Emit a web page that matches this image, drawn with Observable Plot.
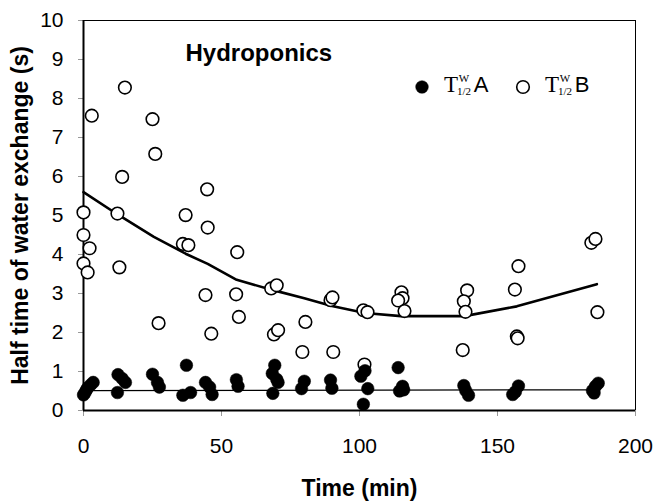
<!DOCTYPE html>
<html>
<head>
<meta charset="utf-8">
<script src="https://cdn.jsdelivr.net/npm/d3@7"></script>
<script src="https://cdn.jsdelivr.net/npm/@observablehq/plot@0.6"></script>
<style>
  html, body { margin: 0; padding: 0; background: white; }
</style>
</head>
<body>
<div id="chart"></div>
<script>
// ---- data ----
const titleText = "Hydroponics";
const xLabel = "Time (min)";
const yLabel = "Half time of water exchange (s)";
const xTicks = [0, 50, 100, 150, 200];
const yTicks = [0, 1, 2, 3, 4, 5, 6, 7, 8, 9, 10];

// T1/2 W A (filled circles)
const timeA = [0, 0.5, 1, 1.5, 2.5, 3.5, 12.5, 14, 15.2, 12.3, 25, 26.8, 27.5, 37.3, 36, 38.8,
  44.2, 45.7, 46.6, 55.4, 56, 69.3, 68.4, 70, 70.5, 68.6, 80, 79, 89.5, 90,
  100.5, 102, 103, 101.4, 114, 115.6, 116, 114.5, 137.8, 138.5, 139.5,
  157.6, 156.5, 155.5, 186.5, 185.5, 184.4, 185];
const valA = [0.40, 0.45, 0.52, 0.58, 0.65, 0.72, 0.92, 0.82, 0.72, 0.46, 0.93, 0.72, 0.60, 1.16, 0.39, 0.46,
  0.72, 0.60, 0.41, 0.79, 0.62, 1.16, 0.95, 0.80, 0.72, 0.44, 0.75, 0.56, 0.78, 0.57,
  0.88, 1.02, 0.56, 0.16, 1.10, 0.62, 0.53, 0.50, 0.64, 0.51, 0.39,
  0.63, 0.48, 0.41, 0.70, 0.62, 0.51, 0.45];

// T1/2 W B (open circles)
const timeB = [0, 0, 0, 2.2, 1.5, 3, 15, 14, 12.3, 13, 25, 26, 27.2, 37, 36, 38,
  44.8, 45, 44.2, 46.3, 55.7, 55.3, 56.3, 68, 70, 69, 70.5, 80.4, 79.3,
  89.5, 90.2, 90.5, 101.4, 102.9, 101.8, 115.2, 115.6, 114, 116.3,
  139, 137.8, 138.4, 137.4, 157.6, 156.3, 157, 157.3, 184, 185.5, 186.2];
const valB = [5.08, 4.50, 3.77, 4.16, 3.54, 7.56, 8.28, 5.99, 5.05, 3.67, 7.47, 6.58, 2.24, 5.01, 4.27, 4.24,
  5.67, 4.69, 2.96, 1.97, 4.06, 2.98, 2.40, 3.13, 3.21, 1.95, 2.06, 2.27, 1.50,
  2.83, 2.90, 1.50, 2.57, 2.52, 1.18, 3.03, 2.88, 2.82, 2.55,
  3.08, 2.80, 2.53, 1.55, 3.70, 3.10, 1.90, 1.85, 4.30, 4.40, 2.52];

// trend lines
const trendBTime = [0, 12.5, 25.5, 37, 45, 55.5, 69, 80, 90, 102, 115, 138, 157, 186];
const trendBVal  = [5.6, 5.02, 4.45, 4.02, 3.76, 3.35, 3.08, 2.88, 2.68, 2.5, 2.42, 2.42, 2.67, 3.24];
const trendATime = [0, 186];
const trendAVal  = [0.51, 0.53];

// ---- build tables ----
const A = timeA.map((t, i) => ({t, v: valA[i]}));
const B = timeB.map((t, i) => ({t, v: valB[i]}));
const TB = trendBTime.map((t, i) => ({t, v: trendBVal[i]}));
const TA = trendATime.map((t, i) => ({t, v: trendAVal[i]}));

const sans = "'Liberation Sans', Arial, Helvetica, sans-serif";
const serif = "'Liberation Serif', 'Times New Roman', serif";

const chart = Plot.plot({
  width: 659,
  height: 501,
  marginLeft: 83,
  marginTop: 20,
  marginRight: 24,
  marginBottom: 91,
  style: {fontFamily: sans, background: "white", color: "black", overflow: "visible"},
  x: {domain: [0, 200]},
  y: {domain: [0, 10]},
  marks: [
    Plot.frame({stroke: "black", strokeWidth: 1}),
    Plot.axisX({ticks: xTicks, tickSize: 6, tickPadding: 22, fontSize: 21, label: null, stroke: "#999"}),
    Plot.axisY({ticks: yTicks, tickSize: 5, tickPadding: 15, fontSize: 21, label: null, stroke: "#999"}),
    Plot.ruleX([0], {stroke: "black", strokeWidth: 2}),
    Plot.ruleY([0], {stroke: "black", strokeWidth: 2}),
    Plot.line(TA, {x: "t", y: "v", stroke: "black", strokeWidth: 1.2}),
    Plot.line(TB, {x: "t", y: "v", stroke: "black", strokeWidth: 2.6}),
    Plot.dot(B, {x: "t", y: "v", r: 6.3, stroke: "black", fill: "white", strokeWidth: 1.6}),
    Plot.dot(A, {x: "t", y: "v", r: 6.3, fill: "black", stroke: "black", strokeWidth: 0.5}),
    Plot.text([titleText], {frameAnchor: "top-left", text: d => d, dx: 102, dy: 33, lineAnchor: "middle",
      textAnchor: "start", fontSize: 24, fontWeight: "bold"}),
    Plot.text([yLabel], {frameAnchor: "left", text: d => d, rotate: -90, dx: -63, lineAnchor: "middle",
      textAnchor: "middle", fontSize: 23, fontWeight: "bold"}),
    Plot.text([xLabel], {frameAnchor: "bottom", text: d => d, dy: 78, lineAnchor: "middle",
      textAnchor: "middle", fontSize: 23, fontWeight: "bold"})
  ]
});

document.getElementById("chart").appendChild(chart);

// ---- legend (inside the plot area) ----
const svg = d3.select(chart.tagName.toLowerCase() === "svg" ? chart : chart.querySelector("svg"));
const leg = svg.append("g").attr("class", "legend");
function entry(cx, filled, letter) {
  leg.append("circle").attr("cx", cx).attr("cy", 87).attr("r", 6.3)
    .attr("fill", filled ? "black" : "white").attr("stroke", "black").attr("stroke-width", filled ? 0.5 : 1.6);
  const tx = cx + 29;
  leg.append("text").attr("x", tx).attr("y", 92).attr("font-family", serif).attr("font-size", 23).text("T");
  leg.append("text").attr("x", tx + 13).attr("y", 95).attr("font-family", serif).attr("font-size", 11).text("1/2");
  leg.append("text").attr("x", tx + 13).attr("y", 82).attr("font-family", serif).attr("font-size", 11).text("W");
  leg.append("text").attr("x", tx + 30).attr("y", 92).attr("font-family", sans).attr("font-size", 22).text(letter);
}
entry(422, true, "A");
entry(523, false, "B");
</script>
</body>
</html>
